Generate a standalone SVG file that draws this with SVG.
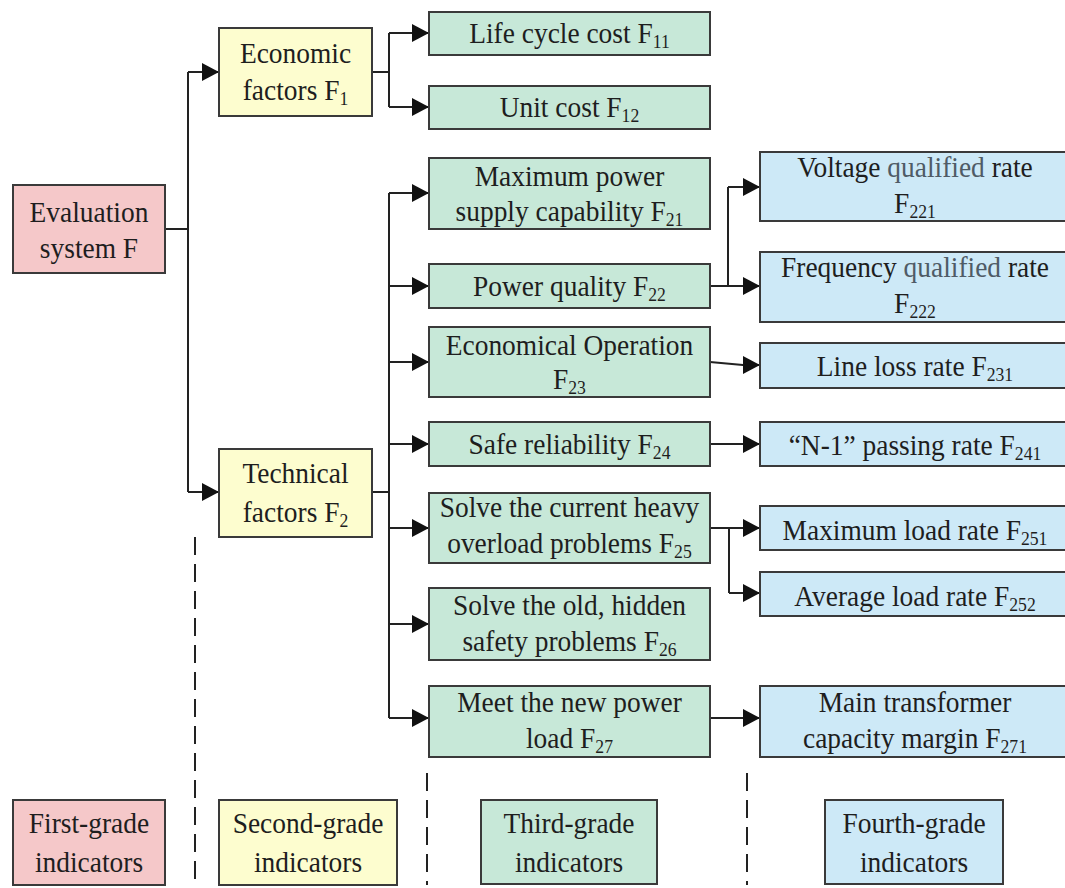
<svg xmlns="http://www.w3.org/2000/svg" width="1065" height="888" viewBox="0 0 1065 888">
<defs>
<marker id="ah" markerUnits="userSpaceOnUse" markerWidth="17" markerHeight="18" refX="17" refY="9" orient="auto">
<path d="M0,0 L17,9 L0,18 z" fill="#111"/>
</marker>
<style>
.box{stroke:#3a3a3a;stroke-width:2}
.pink{fill:#f5c8c9}
.yel{fill:#fdfdcf}
.grn{fill:#c7e8d8}
.blu{fill:#cde9f7}
.t{font-family:"Liberation Serif","Times New Roman",serif;font-size:29.5px;fill:#1e1e1e;text-anchor:middle;transform-box:fill-box;transform-origin:center;transform:scaleX(0.93)}
.s{font-size:19px}
.q{fill:#4f5b66}
.c{fill:none;stroke:#222;stroke-width:2}
.a{marker-end:url(#ah)}
.d{fill:none;stroke:#222;stroke-width:2;stroke-dasharray:18 9}
</style>
</defs>
<rect width="1065" height="888" fill="#fff"/>

<g id="connectors">
<path class="c" d="M165,229 H188 M188,72 V492"/>
<path class="c a" d="M188,72 H219"/>
<path class="c a" d="M188,492 H219"/>
<path class="c" d="M372,72 H389 M389,33 V107"/>
<path class="c a" d="M389,33 H429"/>
<path class="c a" d="M389,107 H429"/>
<path class="c" d="M372,492 H389 M389,193 V718"/>
<path class="c a" d="M389,193 H429"/>
<path class="c a" d="M389,286 H429"/>
<path class="c a" d="M389,362 H429"/>
<path class="c a" d="M389,444 H429"/>
<path class="c a" d="M389,528 H429"/>
<path class="c a" d="M389,624 H429"/>
<path class="c a" d="M389,718 H429"/>
<path class="c" d="M710,286 H728 M728,187 V286"/>
<path class="c a" d="M728,187 H760"/>
<path class="c a" d="M728,286 H760"/>
<path class="c" d="M710,362 L743,365"/>
<path class="c a" d="M742,365 H760"/>
<path class="c a" d="M710,444 H760"/>
<path class="c" d="M710,528 H729 M729,528 V593"/>
<path class="c a" d="M729,528 H760"/>
<path class="c a" d="M729,593 H760"/>
<path class="c a" d="M710,718 H760"/>
<path class="d" d="M195,537 V888"/>
<path class="d" d="M427,773 V885"/>
<path class="d" d="M747,773 V885"/>
</g>

<g id="n-F"><rect class="box pink" x="13" y="185" width="152" height="88"/>
<text class="t" x="89" y="222">Evaluation</text><text class="t" x="89" y="258">system F</text></g>

<g id="n-F1"><rect class="box yel" x="219" y="28" width="153" height="88"/>
<text class="t" x="295.5" y="63">Economic</text><text class="t" x="295.5" y="100">factors F<tspan class="s" dy="5">1</tspan></text></g>

<g id="n-F2"><rect class="box yel" x="219" y="449" width="153" height="88"/>
<text class="t" x="295.5" y="483">Technical</text><text class="t" x="295.5" y="522">factors F<tspan class="s" dy="5">2</tspan></text></g>

<g id="n-F11"><rect class="box grn" x="429" y="12" width="281" height="43"/>
<text class="t" x="569.5" y="43">Life cycle cost F<tspan class="s" dy="5">11</tspan></text></g>

<g id="n-F12"><rect class="box grn" x="429" y="86" width="281" height="43"/>
<text class="t" x="569.5" y="117">Unit cost F<tspan class="s" dy="5">12</tspan></text></g>

<g id="n-F21"><rect class="box grn" x="429" y="158" width="281" height="71"/>
<text class="t" x="569.5" y="186">Maximum power</text><text class="t" x="569.5" y="221">supply capability F<tspan class="s" dy="5">21</tspan></text></g>

<g id="n-F22"><rect class="box grn" x="429" y="264" width="281" height="44"/>
<text class="t" x="569.5" y="296">Power quality F<tspan class="s" dy="5">22</tspan></text></g>

<g id="n-F23"><rect class="box grn" x="429" y="327" width="281" height="70"/>
<text class="t" x="569.5" y="355">Economical Operation</text><text class="t" x="569.5" y="389">F<tspan class="s" dy="5">23</tspan></text></g>

<g id="n-F24"><rect class="box grn" x="429" y="422" width="281" height="44"/>
<text class="t" x="569.5" y="454">Safe reliability F<tspan class="s" dy="5">24</tspan></text></g>

<g id="n-F25"><rect class="box grn" x="429" y="493" width="281" height="70"/>
<text class="t" x="569.5" y="517">Solve the current heavy</text><text class="t" x="569.5" y="553">overload problems F<tspan class="s" dy="5">25</tspan></text></g>

<g id="n-F26"><rect class="box grn" x="429" y="588" width="281" height="72"/>
<text class="t" x="569.5" y="615">Solve the old, hidden</text><text class="t" x="569.5" y="651">safety problems F<tspan class="s" dy="5">26</tspan></text></g>

<g id="n-F27"><rect class="box grn" x="429" y="686" width="281" height="71"/>
<text class="t" x="569.5" y="712">Meet the new power</text><text class="t" x="569.5" y="748">load F<tspan class="s" dy="5">27</tspan></text></g>

<g id="n-F221"><rect class="box blu" x="760" y="152" width="312" height="69"/>
<text class="t" x="915" y="177">Voltage <tspan class="q">qualified</tspan> rate</text><text class="t" x="915" y="213">F<tspan class="s" dy="5">221</tspan></text></g>

<g id="n-F222"><rect class="box blu" x="760" y="252" width="312" height="70"/>
<text class="t" x="915" y="277">Frequency <tspan class="q">qualified</tspan> rate</text><text class="t" x="915" y="313">F<tspan class="s" dy="5">222</tspan></text></g>

<g id="n-F231"><rect class="box blu" x="760" y="343" width="312" height="45"/>
<text class="t" x="915" y="376">Line loss rate F<tspan class="s" dy="5">231</tspan></text></g>

<g id="n-F241"><rect class="box blu" x="760" y="422" width="312" height="44"/>
<text class="t" x="915" y="455">“N-1” passing rate F<tspan class="s" dy="5">241</tspan></text></g>

<g id="n-F251"><rect class="box blu" x="760" y="506" width="312" height="44"/>
<text class="t" x="915" y="540">Maximum load rate F<tspan class="s" dy="5">251</tspan></text></g>

<g id="n-F252"><rect class="box blu" x="760" y="572" width="312" height="44"/>
<text class="t" x="915" y="606">Average load rate F<tspan class="s" dy="5">252</tspan></text></g>

<g id="n-F271"><rect class="box blu" x="760" y="686" width="312" height="71"/>
<text class="t" x="915" y="712">Main transformer</text><text class="t" x="915" y="748">capacity margin F<tspan class="s" dy="5">271</tspan></text></g>

<g id="legend-1"><rect class="box pink" x="13" y="800" width="152" height="85"/>
<text class="t" x="89" y="833">First-grade</text><text class="t" x="89" y="872">indicators</text></g>

<g id="legend-2"><rect class="box yel" x="219" y="800" width="178" height="85"/>
<text class="t" x="308" y="833">Second-grade</text><text class="t" x="308" y="872">indicators</text></g>

<g id="legend-3"><rect class="box grn" x="481" y="800" width="176" height="84"/>
<text class="t" x="569" y="833">Third-grade</text><text class="t" x="569" y="872">indicators</text></g>

<g id="legend-4"><rect class="box blu" x="825" y="800" width="178" height="84"/>
<text class="t" x="914" y="833">Fourth-grade</text><text class="t" x="914" y="872">indicators</text></g>
</svg>
